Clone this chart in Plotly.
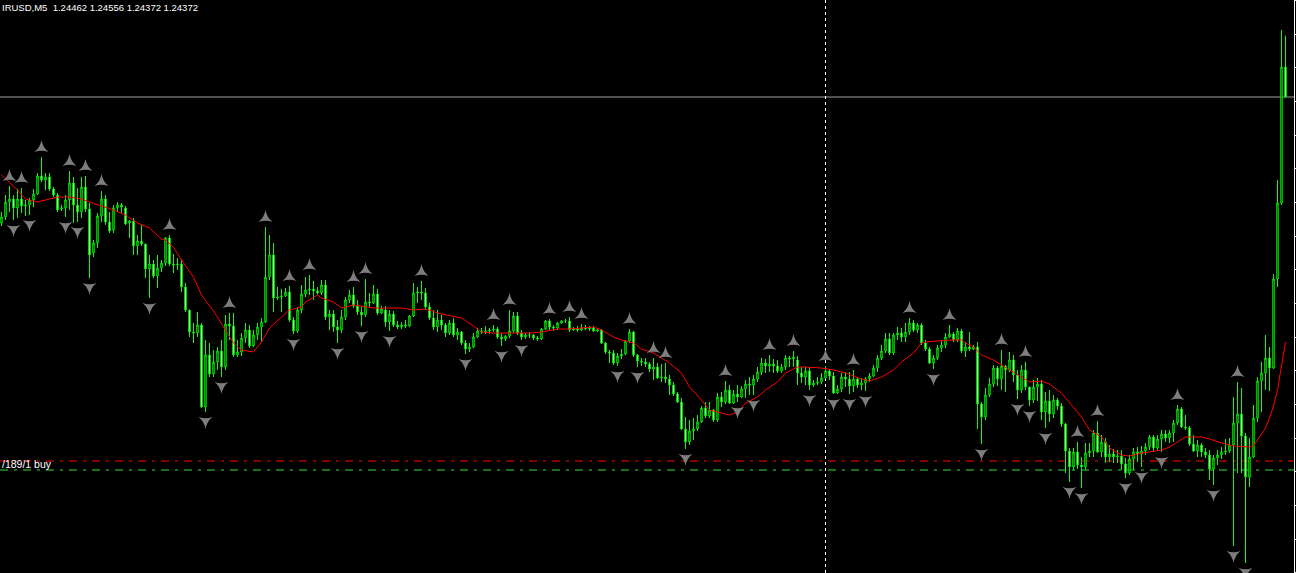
import plotly.graph_objects as go

# ---------------- data (EURUSD M5, one value per candle) ----------------
opens = [
 1.23994,1.24012,1.24057,1.24066,1.24039,1.24066,1.24045,1.24048,1.24063,1.24081,
 1.24135,1.24123,1.24132,1.24096,1.24078,1.24036,1.24039,1.24063,1.24114,1.24048,
 1.24027,1.24102,1.24036,1.23904,1.23934,1.24015,1.24066,1.23997,1.23973,1.24039,
 1.24048,1.24039,1.23994,1.24000,1.23925,1.23940,1.23931,1.23856,1.23871,1.23835,
 1.23859,1.23874,1.23949,1.23871,1.23868,1.23871,1.23802,1.23733,1.23667,1.23664,
 1.23688,1.23442,1.23598,1.23541,1.23577,1.23610,1.23562,1.23691,1.23685,1.23598,
 1.23607,1.23649,1.23673,1.23625,1.23658,1.23682,1.23697,1.23832,1.23898,1.23769,
 1.23772,1.23775,1.23787,1.23703,1.23670,1.23733,1.23781,1.23793,1.23796,1.23790,
 1.23784,1.23808,1.23712,1.23721,1.23682,1.23673,1.23712,1.23763,1.23778,1.23745,
 1.23727,1.23718,1.23757,1.23754,1.23781,1.23724,1.23733,1.23697,1.23721,1.23688,
 1.23682,1.23688,1.23685,1.23715,1.23784,1.23787,1.23784,1.23742,1.23709,1.23682,
 1.23703,1.23688,1.23664,1.23694,1.23658,1.23667,1.23634,1.23616,1.23622,1.23652,
 1.23670,1.23667,1.23670,1.23673,1.23676,1.23652,1.23646,1.23655,1.23670,1.23715,
 1.23664,1.23652,1.23658,1.23658,1.23649,1.23646,1.23676,1.23700,1.23682,1.23679,
 1.23694,1.23700,1.23700,1.23673,1.23676,1.23673,1.23679,1.23676,1.23679,1.23670,
 1.23673,1.23634,1.23607,1.23604,1.23574,1.23595,1.23601,1.23640,1.23667,1.23598,
 1.23580,1.23577,1.23571,1.23556,1.23562,1.23529,1.23532,1.23526,1.23508,1.23481,
 1.23457,1.23376,1.23337,1.23370,1.23376,1.23397,1.23439,1.23415,1.23433,1.23403,
 1.23472,1.23457,1.23493,1.23454,1.23481,1.23472,1.23496,1.23511,1.23508,1.23526,
 1.23547,1.23574,1.23565,1.23571,1.23565,1.23550,1.23562,1.23589,1.23586,1.23583,
 1.23544,1.23532,1.23550,1.23508,1.23514,1.23517,1.23529,1.23550,1.23535,1.23484,
 1.23496,1.23532,1.23526,1.23505,1.23526,1.23508,1.23514,1.23526,1.23535,1.23559,
 1.23589,1.23610,1.23646,1.23604,1.23658,1.23664,1.23652,1.23667,1.23694,1.23673,
 1.23688,1.23634,1.23616,1.23574,1.23589,1.23619,1.23628,1.23652,1.23661,1.23643,
 1.23670,1.23610,1.23622,1.23616,1.23622,1.23451,1.23412,1.23478,1.23511,1.23559,
 1.23526,1.23565,1.23553,1.23583,1.23538,1.23493,1.23553,1.23502,1.23463,1.23502,
 1.23511,1.23427,1.23460,1.23421,1.23463,1.23445,1.23391,1.23310,1.23262,1.23307,
 1.23268,1.23262,1.23304,1.23310,1.23364,1.23307,1.23337,1.23292,1.23301,1.23292,
 1.23295,1.23271,1.23244,1.23286,1.23307,1.23301,1.23310,1.23322,1.23352,1.23319,
 1.23346,1.23361,1.23349,1.23364,1.23394,1.23436,1.23382,1.23379,1.23331,1.23310,
 1.23328,1.23307,1.23298,1.23256,1.23289,1.23298,1.23307,1.23310,1.23328,1.23394,
 1.23421,1.23355,1.23232,1.23292,1.23409,1.23520,1.23544,1.23589,1.23559,1.23826,
 1.24054,1.24462]

highs = [
 1.24027,1.24078,1.24105,1.24078,1.24096,1.24099,1.24063,1.24069,1.24096,1.24144,
 1.24192,1.24144,1.24144,1.24102,1.24084,1.24048,1.24078,1.24150,1.24132,1.24099,
 1.24132,1.24135,1.24054,1.23943,1.24024,1.24090,1.24078,1.24027,1.24048,1.24057,
 1.24054,1.24045,1.24003,1.24009,1.23958,1.23988,1.23931,1.23898,1.23883,1.23898,
 1.23883,1.23952,1.23958,1.23901,1.23889,1.23886,1.23814,1.23733,1.23694,1.23727,
 1.23694,1.23643,1.23634,1.23613,1.23622,1.23643,1.23718,1.23724,1.23724,1.23643,
 1.23664,1.23694,1.23688,1.23673,1.23694,1.23709,1.23982,1.23958,1.23934,1.23802,
 1.23796,1.23799,1.23805,1.23712,1.23742,1.23808,1.23832,1.23838,1.23820,1.23802,
 1.23823,1.23823,1.23733,1.23733,1.23703,1.23733,1.23772,1.23793,1.23802,1.23763,
 1.23742,1.23826,1.23784,1.23808,1.23796,1.23745,1.23745,1.23733,1.23730,1.23700,
 1.23697,1.23703,1.23718,1.23814,1.23802,1.23820,1.23799,1.23754,1.23733,1.23733,
 1.23718,1.23694,1.23703,1.23709,1.23679,1.23670,1.23643,1.23634,1.23664,1.23679,
 1.23679,1.23685,1.23679,1.23688,1.23682,1.23664,1.23658,1.23733,1.23727,1.23727,
 1.23673,1.23664,1.23667,1.23661,1.23655,1.23679,1.23703,1.23706,1.23688,1.23697,
 1.23703,1.23706,1.23712,1.23682,1.23685,1.23691,1.23688,1.23685,1.23685,1.23679,
 1.23676,1.23637,1.23613,1.23613,1.23604,1.23616,1.23643,1.23676,1.23670,1.23601,
 1.23589,1.23589,1.23577,1.23589,1.23574,1.23571,1.23574,1.23538,1.23517,1.23487,
 1.23469,1.23412,1.23403,1.23409,1.23418,1.23445,1.23457,1.23457,1.23436,1.23484,
 1.23487,1.23520,1.23508,1.23493,1.23508,1.23505,1.23523,1.23532,1.23538,1.23562,
 1.23589,1.23586,1.23598,1.23586,1.23583,1.23571,1.23598,1.23595,1.23610,1.23595,
 1.23562,1.23562,1.23562,1.23523,1.23532,1.23544,1.23565,1.23556,1.23547,1.23508,
 1.23544,1.23547,1.23547,1.23553,1.23532,1.23529,1.23532,1.23544,1.23568,1.23598,
 1.23628,1.23664,1.23664,1.23664,1.23682,1.23679,1.23694,1.23709,1.23703,1.23694,
 1.23694,1.23643,1.23622,1.23598,1.23628,1.23643,1.23664,1.23688,1.23667,1.23679,
 1.23676,1.23637,1.23667,1.23628,1.23637,1.23457,1.23499,1.23529,1.23568,1.23565,
 1.23613,1.23568,1.23607,1.23598,1.23553,1.23568,1.23577,1.23502,1.23523,1.23529,
 1.23523,1.23487,1.23493,1.23478,1.23469,1.23454,1.23394,1.23319,1.23319,1.23337,
 1.23292,1.23334,1.23334,1.23373,1.23400,1.23358,1.23349,1.23328,1.23316,1.23313,
 1.23313,1.23289,1.23298,1.23319,1.23322,1.23325,1.23334,1.23358,1.23358,1.23358,
 1.23373,1.23373,1.23373,1.23403,1.23448,1.23442,1.23418,1.23385,1.23358,1.23343,
 1.23334,1.23319,1.23313,1.23298,1.23313,1.23322,1.23346,1.23349,1.23472,1.23517,
 1.23499,1.23364,1.23349,1.23448,1.23532,1.23577,1.23658,1.23622,1.23841,1.24123,
 1.24573,1.24556]

lows = [
 1.23985,1.24003,1.24027,1.24003,1.24009,1.24024,1.24015,1.24018,1.24042,1.24078,
 1.24117,1.24093,1.24090,1.24072,1.24027,1.24030,1.24012,1.24033,1.23994,1.23997,
 1.24009,1.24027,1.23829,1.23892,1.23919,1.23997,1.23988,1.23964,1.23964,1.24027,
 1.24024,1.23988,1.23949,1.23898,1.23898,1.23925,1.23829,1.23769,1.23829,1.23799,
 1.23847,1.23865,1.23865,1.23844,1.23853,1.23787,1.23727,1.23652,1.23634,1.23652,
 1.23439,1.23427,1.23532,1.23532,1.23553,1.23532,1.23553,1.23643,1.23592,1.23592,
 1.23595,1.23634,1.23619,1.23622,1.23643,1.23637,1.23694,1.23823,1.23727,1.23763,
 1.23727,1.23772,1.23697,1.23661,1.23664,1.23724,1.23772,1.23778,1.23763,1.23778,
 1.23778,1.23703,1.23673,1.23667,1.23634,1.23664,1.23703,1.23754,1.23739,1.23718,
 1.23685,1.23712,1.23742,1.23751,1.23718,1.23721,1.23682,1.23670,1.23682,1.23676,
 1.23676,1.23679,1.23682,1.23712,1.23754,1.23763,1.23733,1.23703,1.23673,1.23667,
 1.23673,1.23652,1.23658,1.23652,1.23643,1.23628,1.23601,1.23607,1.23619,1.23649,
 1.23661,1.23661,1.23661,1.23667,1.23646,1.23625,1.23640,1.23649,1.23664,1.23658,
 1.23643,1.23646,1.23649,1.23643,1.23640,1.23643,1.23673,1.23673,1.23670,1.23673,
 1.23691,1.23694,1.23667,1.23670,1.23667,1.23670,1.23673,1.23670,1.23667,1.23667,
 1.23631,1.23601,1.23574,1.23568,1.23565,1.23586,1.23598,1.23634,1.23592,1.23562,
 1.23565,1.23562,1.23547,1.23523,1.23526,1.23517,1.23514,1.23478,1.23475,1.23454,
 1.23373,1.23316,1.23328,1.23343,1.23370,1.23394,1.23409,1.23409,1.23397,1.23397,
 1.23442,1.23451,1.23451,1.23451,1.23457,1.23469,1.23469,1.23478,1.23478,1.23517,
 1.23538,1.23544,1.23547,1.23544,1.23544,1.23544,1.23553,1.23562,1.23562,1.23508,
 1.23514,1.23508,1.23493,1.23502,1.23508,1.23511,1.23526,1.23523,1.23481,1.23481,
 1.23487,1.23502,1.23481,1.23487,1.23499,1.23493,1.23490,1.23517,1.23532,1.23547,
 1.23583,1.23604,1.23598,1.23598,1.23643,1.23637,1.23637,1.23658,1.23667,1.23664,
 1.23628,1.23610,1.23571,1.23556,1.23583,1.23607,1.23619,1.23649,1.23637,1.23637,
 1.23604,1.23592,1.23610,1.23613,1.23376,1.23331,1.23403,1.23472,1.23502,1.23505,
 1.23493,1.23487,1.23547,1.23517,1.23466,1.23484,1.23493,1.23445,1.23454,1.23460,
 1.23403,1.23379,1.23397,1.23409,1.23433,1.23382,1.23244,1.23217,1.23253,1.23256,
 1.23199,1.23253,1.23292,1.23292,1.23304,1.23292,1.23274,1.23277,1.23274,1.23274,
 1.23253,1.23229,1.23238,1.23253,1.23277,1.23262,1.23298,1.23313,1.23307,1.23313,
 1.23307,1.23337,1.23334,1.23337,1.23388,1.23379,1.23373,1.23325,1.23307,1.23292,
 1.23292,1.23289,1.23223,1.23208,1.23268,1.23286,1.23298,1.23304,1.23025,1.23244,
 1.23244,1.22974,1.23202,1.23289,1.23397,1.23427,1.23493,1.23490,1.23556,1.23802,
 1.24048,1.24372]

closes = [
 1.24012,1.24057,1.24066,1.24039,1.24066,1.24045,1.24048,1.24063,1.24081,1.24135,
 1.24123,1.24132,1.24096,1.24078,1.24033,1.24039,1.24063,1.24114,1.24048,1.24027,
 1.24102,1.24036,1.23898,1.23934,1.24015,1.24066,1.23997,1.23970,1.24039,1.24048,
 1.24042,1.23991,1.24000,1.23925,1.23940,1.23931,1.23856,1.23871,1.23835,1.23859,
 1.23874,1.23949,1.23871,1.23868,1.23871,1.23802,1.23733,1.23667,1.23664,1.23688,
 1.23442,1.23598,1.23541,1.23577,1.23610,1.23562,1.23691,1.23685,1.23598,1.23607,
 1.23649,1.23673,1.23625,1.23658,1.23682,1.23697,1.23832,1.23898,1.23769,1.23772,
 1.23775,1.23787,1.23703,1.23670,1.23733,1.23781,1.23793,1.23796,1.23790,1.23784,
 1.23808,1.23712,1.23721,1.23682,1.23673,1.23712,1.23763,1.23778,1.23745,1.23727,
 1.23718,1.23757,1.23754,1.23781,1.23724,1.23736,1.23697,1.23721,1.23688,1.23682,
 1.23688,1.23685,1.23715,1.23784,1.23787,1.23784,1.23742,1.23709,1.23682,1.23703,
 1.23688,1.23664,1.23694,1.23658,1.23667,1.23634,1.23616,1.23622,1.23652,1.23670,
 1.23667,1.23670,1.23673,1.23676,1.23652,1.23646,1.23655,1.23670,1.23715,1.23664,
 1.23652,1.23658,1.23658,1.23649,1.23646,1.23676,1.23700,1.23682,1.23679,1.23694,
 1.23700,1.23700,1.23673,1.23676,1.23673,1.23679,1.23676,1.23679,1.23670,1.23673,
 1.23634,1.23607,1.23604,1.23574,1.23595,1.23601,1.23640,1.23667,1.23598,1.23580,
 1.23577,1.23571,1.23556,1.23562,1.23529,1.23532,1.23526,1.23508,1.23481,1.23457,
 1.23376,1.23337,1.23370,1.23376,1.23397,1.23439,1.23415,1.23433,1.23403,1.23472,
 1.23457,1.23493,1.23454,1.23481,1.23472,1.23496,1.23511,1.23508,1.23526,1.23547,
 1.23574,1.23565,1.23571,1.23565,1.23550,1.23562,1.23589,1.23586,1.23592,1.23544,
 1.23532,1.23550,1.23508,1.23514,1.23517,1.23529,1.23550,1.23535,1.23484,1.23496,
 1.23532,1.23526,1.23505,1.23526,1.23508,1.23514,1.23526,1.23535,1.23559,1.23589,
 1.23610,1.23646,1.23604,1.23658,1.23664,1.23652,1.23667,1.23694,1.23673,1.23688,
 1.23634,1.23616,1.23574,1.23589,1.23619,1.23628,1.23652,1.23661,1.23643,1.23670,
 1.23610,1.23622,1.23616,1.23622,1.23451,1.23412,1.23478,1.23511,1.23559,1.23526,
 1.23565,1.23553,1.23583,1.23538,1.23493,1.23553,1.23502,1.23463,1.23502,1.23511,
 1.23427,1.23460,1.23421,1.23463,1.23445,1.23391,1.23310,1.23262,1.23307,1.23268,
 1.23262,1.23304,1.23310,1.23364,1.23307,1.23337,1.23292,1.23301,1.23292,1.23295,
 1.23271,1.23244,1.23286,1.23307,1.23301,1.23310,1.23322,1.23352,1.23319,1.23346,
 1.23361,1.23349,1.23364,1.23394,1.23436,1.23382,1.23379,1.23331,1.23310,1.23328,
 1.23307,1.23298,1.23256,1.23289,1.23298,1.23307,1.23310,1.23328,1.23394,1.23421,
 1.23355,1.23232,1.23292,1.23409,1.23520,1.23544,1.23589,1.23559,1.23826,1.24054,
 1.24462,1.24372]

# moving average (red), read at selected candles
ma_index = [0,4,6,9,12,14,17,20,22,25,28,31,34,37,40,41,43,45,48,50,53,56,58,60,63,65,67,70,72,75,
            76,79,80,83,85,88,90,93,96,100,103,106,110,113,115,118,120,123,126,129,132,135,139,142,145,
            148,150,153,155,158,160,163,167,170,172,175,177,180,182,184,186,189,191,194,196,199,201,205,
            208,211,215,217,220,223,225,228,230,231,234,237,240,241,243,245,248,250,253,255,257,260,262,
            265,267,270,272,275,277,280,282,285,287,290,292,295,296,300,302,305,308,312,313,314,315,316,
            317,318,319,320,321]
ma_value = [1.24138,1.24093,1.24066,1.24057,1.24066,1.24072,1.24072,1.24066,1.24057,1.24045,1.24033,
            1.24018,1.23994,1.23979,1.23946,1.23943,1.23922,1.23883,1.23832,1.23778,1.23730,1.23673,
            1.23634,1.23613,1.23607,1.23637,1.23679,1.23712,1.23733,1.23742,1.23757,1.23778,1.23769,
            1.23757,1.23739,1.23748,1.23745,1.23739,1.23739,1.23739,1.23733,1.23736,1.23721,1.23715,
            1.23709,1.23685,1.23667,1.23664,1.23664,1.23664,1.23664,1.23667,1.23676,1.23676,1.23679,
            1.23682,1.23673,1.23652,1.23643,1.23634,1.23616,1.23604,1.23574,1.23544,1.23502,1.23463,
            1.23433,1.23424,1.23418,1.23427,1.23454,1.23472,1.23493,1.23517,1.23544,1.23562,1.23562,
            1.23559,1.23553,1.23544,1.23526,1.23520,1.23532,1.23553,1.23577,1.23604,1.23634,1.23637,
            1.23640,1.23643,1.23643,1.23634,1.23622,1.23598,1.23583,1.23568,1.23547,1.23532,1.23517,
            1.23520,1.23511,1.23484,1.23454,1.23412,1.23373,1.23352,1.23319,1.23298,1.23295,1.23304,
            1.23307,1.23313,1.23322,1.23343,1.23352,1.23352,1.23346,1.23334,1.23325,1.23322,1.23325,
            1.23343,1.23361,1.23379,1.23409,1.23445,1.23493,1.23568,1.23637]

# fractal marks (candle indices)
fractal_up = [2,5,10,17,21,25,42,57,66,72,77,88,91,105,123,127,137,142,145,157,163,166,181,
              192,198,206,213,227,237,250,256,269,274,294,309]
fractal_down = [3,7,16,19,22,37,51,55,73,84,90,97,116,125,130,154,159,171,184,188,202,208,212,
                216,233,245,254,257,261,267,270,281,285,290,303,308,311]

header_text = "IRUSD,M5  1.24462 1.24556 1.24372 1.24372"
order_text = "/189/1 buy"
bid_price = 1.24372
stop_price = 1.23280
order_price = 1.23253
separator_index = 206
label_price = 1.23271
price_range = [1.22944, 1.24663]

# ---------------- figure ----------------
idx = list(range(len(opens)))
arrow_gap = 0.00027

fig = go.Figure()
fig.add_trace(go.Candlestick(
    x=idx, open=opens, high=highs, low=lows, close=closes,
    increasing=dict(line=dict(color="#00ff00", width=1), fillcolor="#000000"),
    decreasing=dict(line=dict(color="#00ff00", width=1), fillcolor="#ffffff"),
    whiskerwidth=0, hoverinfo="skip", showlegend=False))

fig.add_trace(go.Scatter(x=ma_index, y=ma_value, mode="lines",
                         line=dict(color="#ff0000", width=1), hoverinfo="skip", showlegend=False))

fig.add_trace(go.Scatter(x=fractal_up, y=[highs[i] + arrow_gap for i in fractal_up], mode="markers",
                         marker=dict(symbol="star-triangle-up", size=10, color="#7d7d7d",
                                     line=dict(width=0)),
                         hoverinfo="skip", showlegend=False))
fig.add_trace(go.Scatter(x=fractal_down, y=[lows[i] - arrow_gap for i in fractal_down], mode="markers",
                         marker=dict(symbol="star-triangle-down", size=10, color="#7d7d7d",
                                     line=dict(width=0)),
                         hoverinfo="skip", showlegend=False))

# horizontal / vertical chart lines
fig.add_shape(type="line", xref="paper", x0=0, x1=1, yref="y", y0=bid_price, y1=bid_price,
              line=dict(color="#a0a0a0", width=1), layer="below")
fig.add_shape(type="line", xref="paper", x0=0, x1=1, yref="y", y0=stop_price, y1=stop_price,
              line=dict(color="#ff0000", width=1, dash="8px,6px,3px,6px"), layer="below")
fig.add_shape(type="line", xref="paper", x0=0, x1=1, yref="y", y0=order_price, y1=order_price,
              line=dict(color="#33dd33", width=1, dash="8px,6px,3px,6px"), layer="below")
fig.add_shape(type="line", xref="x", x0=separator_index, x1=separator_index, yref="paper", y0=0, y1=1,
              line=dict(color="#ffffff", width=1, dash="3px,3px"), layer="below")

fig.add_annotation(xref="paper", yref="paper", x=0, y=1, xanchor="left", yanchor="top",
                   text=header_text, showarrow=False,
                   font=dict(family="Liberation Sans", size=9.5, color="#ffffff"))
fig.add_annotation(xref="paper", yref="y", x=0, y=label_price, xanchor="left", yanchor="middle",
                   text=order_text, showarrow=False,
                   font=dict(family="Liberation Sans", size=10.5, color="#ffffff"))

fig.update_layout(
    width=1296, height=573,
    margin=dict(l=0, r=2, t=0, b=0, pad=0),
    paper_bgcolor="#000000", plot_bgcolor="#000000",
    boxgap=0.5, showlegend=False, hovermode=False,
    xaxis=dict(range=[-0.375, 323.125], visible=False, showgrid=False, zeroline=False,
               rangeslider=dict(visible=False), fixedrange=True),
    yaxis=dict(range=price_range, side="right", showgrid=False, zeroline=False,
               showline=True, linecolor="#ffffff", linewidth=1, mirror=False,
               ticks="outside", ticklen=3, tickcolor="#ffffff", tickwidth=1,
               showticklabels=False, tick0=1.24561, dtick=0.00101, fixedrange=True),
)

fig.write_html("out.html", include_plotlyjs=True, full_html=True,
               config={"displayModeBar": False, "staticPlot": True},
               post_script="document.body.style.margin='0';document.body.style.overflow='hidden';")
